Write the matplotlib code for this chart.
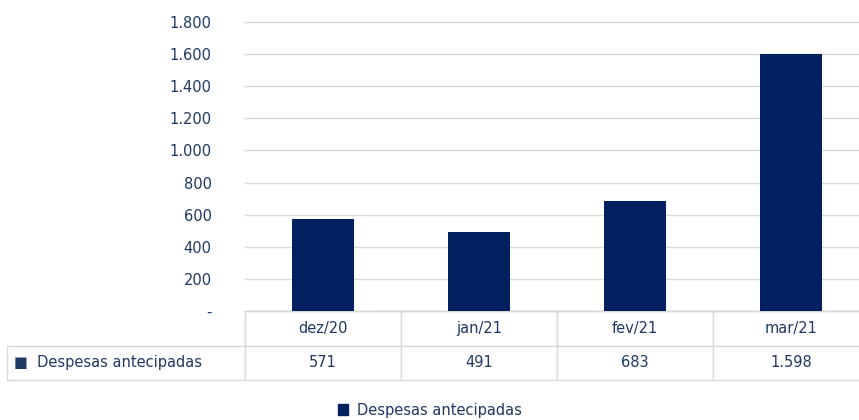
import matplotlib.pyplot as plt
from matplotlib.patches import Patch

# data
months = ['dez/20', 'jan/21', 'fev/21', 'mar/21']
despesas = [571, 491, 683, 1598]
y_ticks = [0, 200, 400, 600, 800, 1000, 1200, 1400, 1600, 1800]
series_name = 'Despesas antecipadas'

bar_color = '#002060'
text_color = '#1F3864'
grid_color = '#D9D9D9'


def fmt_br(v):
    if v == 0:
        return '-'
    return '{:,}'.format(int(v)).replace(',', '.')


plt.rcParams['font.family'] = ['DejaVu Sans']
fig = plt.figure(figsize=(8.59, 4.20), dpi=100)
# plot area runs a little past the right edge of the picture, as in the original crop
ax_w = 624
ax = fig.add_axes([245 / 859, 1 - 311 / 420, ax_w / 859, 289 / 420])

x = range(len(months))
ax.bar(x, despesas, width=0.40, color=bar_color, zorder=3)
ax.set_xlim(-0.5, len(months) - 0.5)
ax.set_ylim(0, 1800)
ax.set_yticks(y_ticks)
ax.set_yticklabels([fmt_br(v) for v in y_ticks], color=text_color, fontsize=10.5)
ax.set_xticks([])
ax.tick_params(axis='y', length=0, pad=24)
ax.grid(axis='y', color=grid_color, linewidth=1.0, zorder=0, clip_on=False)
for gl in ax.get_ygridlines():
    gl.set_clip_on(False)
for side in ['top', 'right', 'left']:
    ax.spines[side].set_visible(False)
ax.spines['bottom'].set_color(grid_color)
ax.spines['bottom'].set_linewidth(1.0)

# data table under the chart
label_w = 238 / ax_w
cell_text = [[''] + months,
             ['\u25A0  ' + series_name] + [fmt_br(v) for v in despesas]]
col_w = [label_w] + [1 / len(months)] * len(months)
table = ax.table(cellText=cell_text, colWidths=col_w, cellLoc='center',
                 bbox=[-label_w, -69 / 289, 1 + label_w, 69 / 289])
table.auto_set_font_size(False)
table.set_fontsize(10.5)
for (r, c), cell in table.get_celld().items():
    cell.set_edgecolor(grid_color)
    cell.set_linewidth(1.0)
    cell.get_text().set_color(text_color)
    if r == 0 and c == 0:
        cell.visible_edges = 'R'
    if r == 1 and c == 0:
        cell.get_text().set_horizontalalignment('left')
        cell.PAD = 0.03

fig.legend(handles=[Patch(color=bar_color)], labels=[series_name],
           loc='center', bbox_to_anchor=(430 / 859, 1 - 410 / 420),
           frameon=False, fontsize=10.5, labelcolor=text_color,
           handlelength=0.7, handleheight=0.7, handletextpad=0.6)

fig.savefig('out.png', dpi=100)
